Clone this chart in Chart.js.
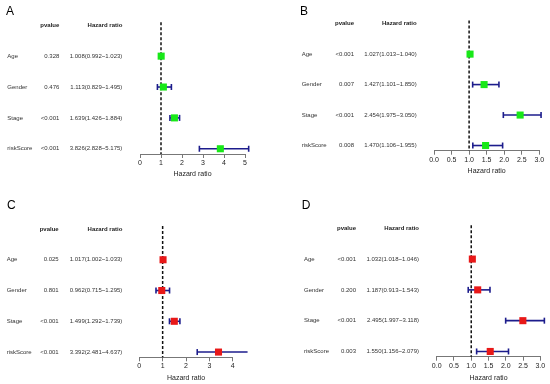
<!DOCTYPE html>
<html>
<head>
<meta charset="utf-8">
<script src="https://cdn.jsdelivr.net/npm/chart.js@4.4.1/dist/chart.umd.min.js"></script>
<style>
  body { margin: 0; background: #fff; }
  #wrap { position: relative; width: 550px; height: 384px; }
  .panel { position: absolute; }
</style>
</head>
<body>
<div id="wrap">
  <div class="panel" style="left:0;top:0"><canvas id="cA" width="275" height="190"></canvas></div>
  <div class="panel" style="left:275px;top:0"><canvas id="cB" width="275" height="190"></canvas></div>
  <div class="panel" style="left:0;top:190px"><canvas id="cC" width="275" height="194"></canvas></div>
  <div class="panel" style="left:275px;top:190px"><canvas id="cD" width="275" height="194"></canvas></div>
</div>
<script>
// Shared row names
const variables = ['Age', 'Gender', 'Stage', 'riskScore'];

// Panel A (univariate, training)
const pvalueA = ['0.328', '0.476', '<0.001', '<0.001'];
const hrA = [1.008, 1.113, 1.639, 3.826];
const lowA = [0.992, 0.829, 1.426, 2.828];
const highA = [1.023, 1.495, 1.884, 5.175];
const ticksA = [0, 1, 2, 3, 4, 5];

// Panel B (multivariate, training)
const pvalueB = ['<0.001', '0.007', '<0.001', '0.008'];
const hrB = [1.027, 1.427, 2.454, 1.470];
const lowB = [1.013, 1.101, 1.975, 1.106];
const highB = [1.040, 1.850, 3.050, 1.955];
const ticksB = [0, 0.5, 1, 1.5, 2, 2.5, 3];

// Panel C (univariate, testing)
const pvalueC = ['0.025', '0.801', '<0.001', '<0.001'];
const hrC = [1.017, 0.962, 1.499, 3.392];
const lowC = [1.002, 0.715, 1.292, 2.481];
const highC = [1.033, 1.295, 1.739, 4.637];
const ticksC = [0, 1, 2, 3, 4];

// Panel D (multivariate, testing)
const pvalueD = ['<0.001', '0.200', '<0.001', '0.003'];
const hrD = [1.032, 1.187, 2.495, 1.550];
const lowD = [1.018, 0.913, 1.997, 1.156];
const highD = [1.046, 1.543, 3.118, 2.079];
const ticksD = [0, 0.5, 1, 1.5, 2, 2.5, 3];

const FONT = '"Liberation Sans", Arial, sans-serif';
const BAR_COLOR = '#1c1c8c';

// Draw one forest plot panel
function forestPlot(id, opts) {
    const { letter, pvalues, hr, low, high, ticks, decimals, markColor, geo } = opts;

    const datasets = [];
    // hazard ratio squares
    datasets.push({
        type: 'scatter',
        data: hr.map((v, i) => ({ x: v, y: i + 1 })),
        pointStyle: 'rect',
        pointRadius: 5,
        pointBackgroundColor: markColor,
        pointBorderColor: markColor,
        pointBorderWidth: 0,
        order: 0,
        clip: false
    });
    // confidence intervals with caps
    hr.forEach((v, i) => {
        datasets.push({
            type: 'line',
            data: [{ x: low[i], y: i + 1 }, { x: high[i], y: i + 1 }],
            borderColor: BAR_COLOR,
            borderWidth: 1.6,
            pointStyle: 'line',
            rotation: 90,
            pointRadius: 3,
            pointBorderColor: BAR_COLOR,
            pointBorderWidth: 1.6,
            order: 1,
            clip: false
        });
    });
    // reference line at HR = 1
    datasets.push({
        type: 'line',
        data: [{ x: 1, y: -0.1 }, { x: 1, y: 4.17 }],
        borderColor: '#111',
        borderWidth: 1.5,
        borderDash: [3, 2],
        pointRadius: 0,
        order: 2,
        clip: false
    });

    // text columns next to the plot
    const textPlugin = {
        id: 'forestText',
        afterDraw(chart) {
            const ctx = chart.ctx;
            const y = chart.scales.y;
            ctx.save();
            ctx.textBaseline = 'middle';
            ctx.fillStyle = '#222';
            ctx.font = 'bold 6px ' + FONT;
            ctx.textAlign = 'right';
            const hy = y.getPixelForValue(0);
            ctx.fillText('pvalue', geo.pRight, hy);
            ctx.fillText('Hazard ratio', geo.hrRight, hy);
            ctx.font = '6px ' + FONT;
            ctx.fillStyle = '#333';
            variables.forEach((name, i) => {
                const py = y.getPixelForValue(i + 1);
                ctx.textAlign = 'left';
                ctx.fillText(name, geo.labelX, py);
                ctx.textAlign = 'right';
                ctx.fillText(pvalues[i], geo.pRight, py);
                ctx.fillText(hr[i].toFixed(3) + '(' + low[i].toFixed(3) + '~' + high[i].toFixed(3) + ')', geo.hrRight, py);
            });
            ctx.font = '12px ' + FONT;
            ctx.fillStyle = '#000';
            ctx.textAlign = 'left';
            ctx.textBaseline = 'alphabetic';
            ctx.fillText(letter, geo.letterX, geo.letterY);
            ctx.restore();
        }
    };

    const H = document.getElementById(id).height;
    const axisH = H - geo.axisY;
    const titleFont = 7;

    return new Chart(document.getElementById(id), {
        data: { datasets },
        options: {
            responsive: false,
            animation: false,
            layout: { padding: { left: geo.left, right: geo.right, top: geo.top, bottom: 0 } },
            plugins: { legend: { display: false }, tooltip: { enabled: false } },
            scales: {
                x: {
                    type: 'linear',
                    min: ticks[0],
                    max: ticks[ticks.length - 1],
                    afterBuildTicks: s => { s.ticks = ticks.map(v => ({ value: v })); },
                    afterFit: s => { s.height = axisH; },
                    ticks: {
                        autoSkip: false,
                        maxRotation: 0,
                        padding: 1,
                        color: '#222',
                        font: { family: FONT, size: 7 },
                        callback: v => Number(v).toFixed(decimals)
                    },
                    grid: { drawOnChartArea: false, drawTicks: true, tickLength: 4, color: '#777', lineWidth: 1 },
                    border: { display: true, color: '#777', width: 1 },
                    title: {
                        display: true,
                        text: 'Hazard ratio',
                        color: '#222',
                        font: { family: FONT, size: titleFont },
                        padding: { top: 0, bottom: H - geo.titleY - titleFont * 1.2 / 2 }
                    }
                },
                y: { type: 'linear', min: -0.1, max: 4.17, reverse: true, display: false }
            }
        },
        plugins: [textPlugin]
    });
}

forestPlot('cA', {
    letter: 'A', pvalues: pvalueA, hr: hrA, low: lowA, high: highA, ticks: ticksA, decimals: 0,
    markColor: '#18e818',
    geo: { left: 140, right: 30, top: 22.2, axisY: 154, titleY: 174, labelX: 7.3, pRight: 59.3, hrRight: 122.3, letterX: 6, letterY: 14.5 }
});
forestPlot('cB', {
    letter: 'B', pvalues: pvalueB, hr: hrB, low: lowB, high: highB, ticks: ticksB, decimals: 1,
    markColor: '#18e818',
    geo: { left: 159, right: 10.7, top: 20.6, axisY: 150.7, titleY: 171, labelX: 26.7, pRight: 79, hrRight: 141.7, letterX: 25, letterY: 15 }
});
forestPlot('cC', {
    letter: 'C', pvalues: pvalueC, hr: hrC, low: lowC, high: highC, ticks: ticksC, decimals: 0,
    markColor: '#e81818',
    geo: { left: 139.3, right: 42.3, top: 35.9, axisY: 167.3, titleY: 188.3, labelX: 6.7, pRight: 58.7, hrRight: 122.3, letterX: 7, letterY: 18.5 }
});
forestPlot('cD', {
    letter: 'D', pvalues: pvalueD, hr: hrD, low: lowD, high: highD, ticks: ticksD, decimals: 1,
    markColor: '#e81818',
    geo: { left: 161.7, right: 9.7, top: 35.2, axisY: 166.7, titleY: 187.7, labelX: 29, pRight: 81, hrRight: 144, letterX: 26.7, letterY: 18.5 }
});
</script>
</body>
</html>
